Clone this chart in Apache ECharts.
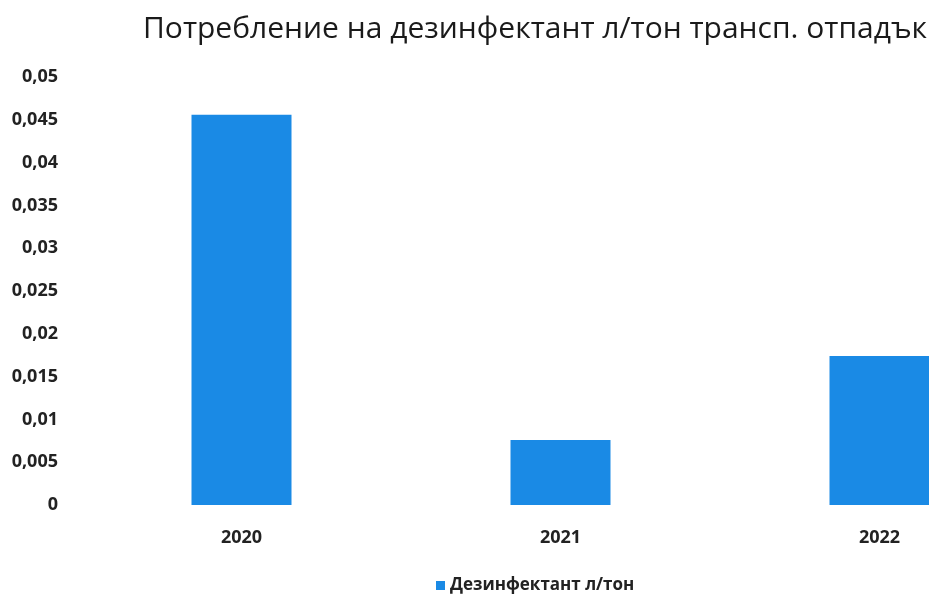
<!DOCTYPE html>
<html><head><meta charset="utf-8">
<script src="https://cdn.jsdelivr.net/npm/echarts@6/dist/echarts.min.js"></script>
<style>html,body{margin:0;padding:0;background:#fff;overflow:hidden;width:929px;height:595px}#c{width:1040px;height:595px}</style>
</head><body><div id="c"></div>
<script>
const categories = ['2020', '2021', '2022'];
const values = [0.0456, 0.0076, 0.0174];
const seriesName = 'Дезинфектант л/тон';
const titleText = 'Потребление на дезинфектант л/тон трансп. отпадък';

const chart = echarts.init(document.getElementById('c'), null, {renderer: 'canvas'});
chart.setOption({
  animation: false,
  backgroundColor: '#fff',
  title: {
    text: titleText, left: 138, top: 9,
    textStyle: {fontFamily: 'Open Sans', fontSize: 30, fontWeight: 'normal', color: '#1a1a1a'}
  },
  legend: {
    top: 572, left: 431, itemWidth: 9, itemHeight: 9, itemGap: 5,
    textStyle: {fontFamily: 'Open Sans', fontSize: 17, fontWeight: 'bold', color: '#222'},
    data: [{name: seriesName, icon: 'rect'}]
  },
  grid: {left: 82, top: 77, right: 1, bottom: 90, containLabel: false},
  xAxis: {
    type: 'category', data: categories,
    axisLine: {show: false}, axisTick: {show: false},
    axisLabel: {margin: 24, fontFamily: 'Open Sans', fontSize: 18, fontWeight: 'bold', color: '#222'}
  },
  yAxis: {
    type: 'value', min: 0, max: 0.05, interval: 0.005,
    axisLine: {show: false}, axisTick: {show: false},
    splitLine: {show: false},
    axisLabel: {margin: 24, fontFamily: 'Open Sans', fontSize: 18, fontWeight: 'bold', color: '#222',
      formatter: v => String(+v.toFixed(3)).replace('.', ',')}
  },
  series: [{
    name: seriesName, type: 'bar', data: values, barWidth: 100,
    itemStyle: {color: '#1a8ae5'}
  }]
});
</script></body></html>
